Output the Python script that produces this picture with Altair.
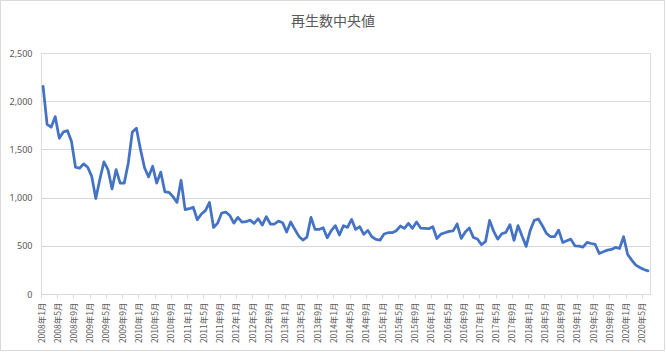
import altair as alt
import pandas as pd

# Monthly median view counts
views_2008 = [2155, 1760, 1730, 1840, 1615, 1680, 1695, 1585, 1315, 1305, 1350, 1315]
views_2009 = [1220, 990, 1190, 1370, 1290, 1090, 1290, 1150, 1150, 1360, 1680, 1720]
views_2010 = [1500, 1310, 1215, 1325, 1150, 1265, 1060, 1055, 1010, 950, 1180, 875]
views_2011 = [885, 900, 770, 830, 865, 950, 690, 735, 840, 850, 815, 735]
views_2012 = [795, 745, 750, 767, 733, 781, 715, 802, 726, 726, 757, 740]
views_2013 = [643, 747, 671, 600, 560, 590, 795, 670, 670, 688, 584, 657]
views_2014 = [709, 612, 709, 691, 774, 670, 698, 619, 660, 594, 566, 559]
views_2015 = [622, 636, 636, 656, 705, 681, 733, 681, 747, 684, 681, 677]
views_2016 = [698, 576, 621, 635, 650, 655, 726, 576, 643, 684, 587, 570]
views_2017 = [511, 546, 764, 649, 570, 625, 639, 719, 556, 709, 598, 494]
views_2018 = [660, 764, 778, 708, 629, 594, 594, 663, 535, 552, 569, 500]
views_2019 = [497, 486, 535, 524, 514, 420, 438, 455, 462, 483, 472, 594]
views_2020 = [410, 351, 299, 275, 254, 240]

years = list(range(2008, 2021))
yearly = [views_2008, views_2009, views_2010, views_2011, views_2012, views_2013,
          views_2014, views_2015, views_2016, views_2017, views_2018, views_2019,
          views_2020]

month_labels = []
values = []
for y, vals in zip(years, yearly):
    for i, v in enumerate(vals):
        month_labels.append(f"{y}年{i + 1}月")
        values.append(v)

tick_labels = month_labels[::4]
y_ticks = [0, 500, 1000, 1500, 2000, 2500]
title_text = "再生数中央値"

df = pd.DataFrame({"month": month_labels, "views": values})
one_row = pd.DataFrame({"title": [title_text]})

W, H = 609, 241
step = W / len(month_labels)

line = alt.Chart(df).mark_line(
    color="#4472C4", strokeWidth=2.75, strokeJoin="round", strokeCap="round"
).encode(
    x=alt.X(
        "month:O",
        sort=month_labels,
        scale=alt.Scale(type="point", padding=0.5),
        axis=alt.Axis(
            title=None,
            values=tick_labels,
            labelAngle=-90,
            labelAlign="right",
            labelBaseline="middle",
            labelFont="Noto Sans CJK JP",
            labelFontSize=8.5,
            labelColor="#595959",
            labelPadding=4,
            tickOffset=-step / 2,
            tickSize=4,
            tickColor="#d9d9d9",
            domainColor="#d9d9d9",
            grid=False,
            labelOverlap=False,
        ),
    ),
    y=alt.Y(
        "views:Q",
        scale=alt.Scale(domain=[0, 2500], nice=False),
        axis=alt.Axis(
            title=None,
            values=y_ticks,
            format=",d",
            labelFont="Noto Sans",
            labelFontSize=9,
            labelColor="#595959",
            labelPadding=9,
            ticks=False,
            domain=False,
            gridColor="#d9d9d9",
            gridWidth=1,
        ),
    ),
)

frame = alt.Chart(one_row).mark_rect(
    fill=None, stroke="#d9d9d9", strokeWidth=1
).encode(
    x=alt.value(-40.5), x2=alt.value(623.5),
    y=alt.value(-52.5), y2=alt.value(297.5),
)

title = alt.Chart(one_row).mark_text(
    font="Noto Sans CJK JP", fontSize=14, color="#595959",
    align="center", baseline="middle",
).encode(
    x=alt.value(292), y=alt.value(-31), text="title:N",
)

chart = alt.layer(frame, line, title).properties(
    width=W,
    height=H,
    autosize=alt.AutoSizeParams(type="none"),
    padding={"left": 41, "top": 53, "right": 16, "bottom": 58},
).configure_view(stroke=None).configure(background="white")

chart.save("out.html", embed_options={"renderer": "svg", "actions": False})
